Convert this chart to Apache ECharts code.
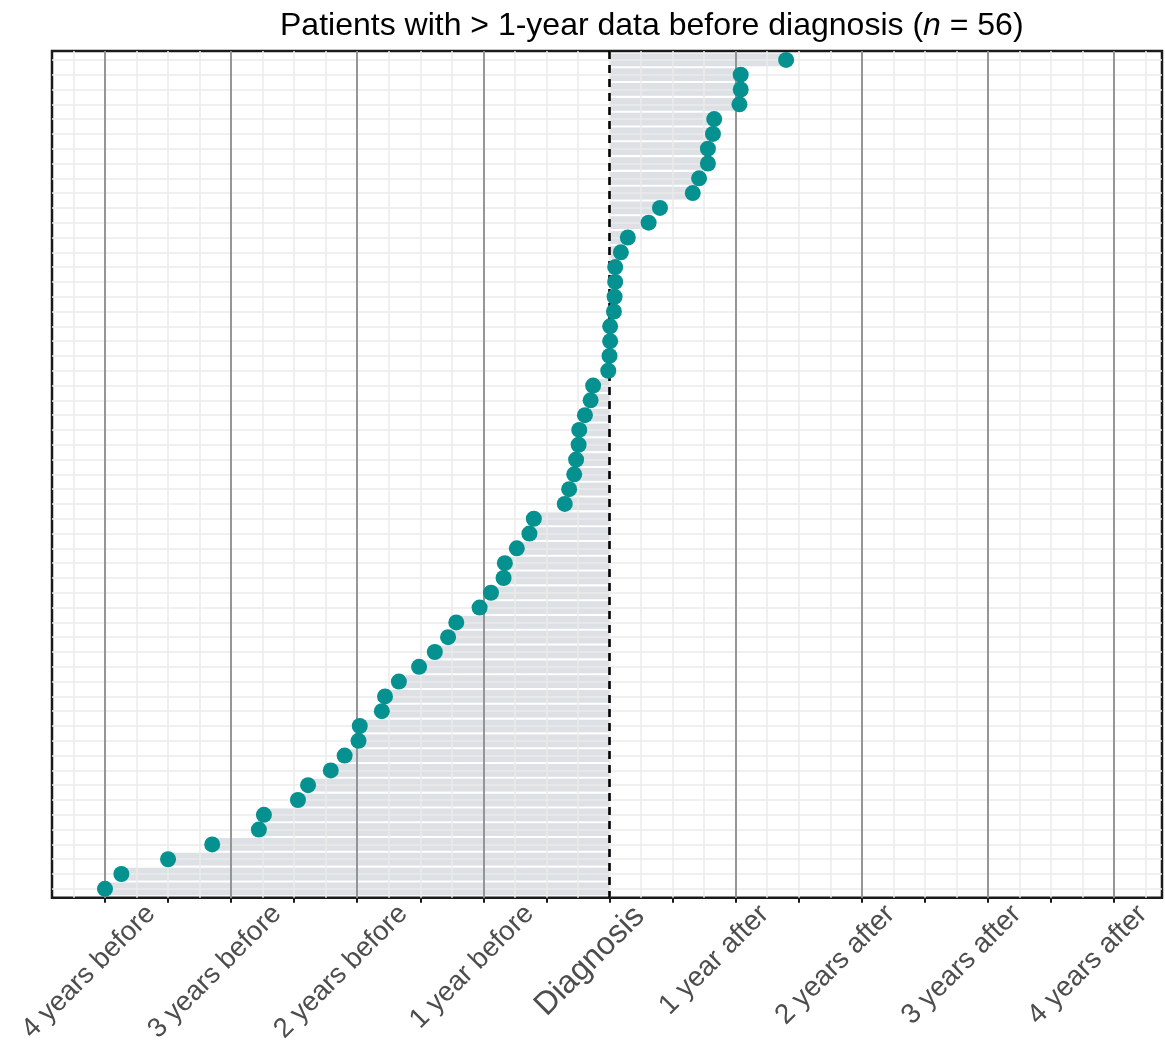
<!DOCTYPE html>
<html>
<head>
<meta charset="utf-8">
<script src="https://cdn.jsdelivr.net/npm/echarts@6/dist/echarts.min.js"></script>
<style>
  html, body { margin: 0; padding: 0; background: #ffffff; }
  #chart { width: 1165px; height: 1046px; }
</style>
</head>
<body>
<div id="chart"></div>
<script>
// Years relative to diagnosis for each patient (top row first)
const patientValues = [
  1.40, 1.04, 1.04, 1.03, 0.83, 0.82, 0.78, 0.78, 0.71, 0.66,
  0.40, 0.31, 0.145, 0.09, 0.045, 0.045, 0.04, 0.035, 0.005, 0.005,
  0.0, -0.01, -0.13, -0.15, -0.195, -0.24, -0.245, -0.265, -0.28, -0.32,
  -0.355, -0.60, -0.635, -0.735, -0.83, -0.84, -0.94, -1.03, -1.215, -1.28,
  -1.385, -1.51, -1.67, -1.78, -1.805, -1.98, -1.99, -2.10, -2.21, -2.39,
  -2.47, -2.74, -2.78, -3.15, -3.50, -3.87, -4.00
];
const tickValues = [-4, -3, -2, -1, 0, 1, 2, 3, 4];
const tickLabels = ['4 years before', '3 years before', '2 years before', '1 year before',
  'Diagnosis', '1 year after', '2 years after', '3 years after', '4 years after'];
const halfTickValues = [-4, -3.5, -3, -2.5, -2, -1.5, -1, -0.5, 0, 0.5, 1, 1.5, 2, 2.5, 3, 3.5, 4];

const rows = patientValues.map((v, i) => [v, i + 1]);
const nRows = patientValues.length;

const minorX = [];
for (let v = -4.25; v <= 4.25001; v += 0.25) minorX.push({ xAxis: Math.round(v * 100) / 100 });
const rowLines = rows.map(r => ({ yAxis: r[1] }));
const majorX = tickValues.filter(v => v !== 0).map(v => ({ xAxis: v }));

const labelMap = {};
tickValues.forEach((v, i) => { labelMap[v] = tickLabels[i]; });

const chart = echarts.init(document.getElementById('chart'), null, { renderer: 'canvas' });
chart.setOption({
  animation: false,
  backgroundColor: '#ffffff',
  title: {
    text: '{a|Patients with > 1-year data before diagnosis (}{i|n}{a| = 56)}',
    left: 275,
    top: 5,
    textStyle: {
      fontWeight: 'normal',
      rich: {
        a: { fontFamily: 'Liberation Sans', fontSize: 32, fontWeight: 'normal', color: '#000000' },
        i: { fontFamily: 'Liberation Sans', fontSize: 32, fontWeight: 'normal', color: '#000000', fontStyle: 'italic' }
      }
    }
  },
  grid: {
    left: 52, right: 3, top: 51, bottom: 146,
    show: true, borderColor: '#1a1a1a', borderWidth: 2.5, backgroundColor: '#ffffff'
  },
  xAxis: {
    type: 'value', min: -4.42, max: 4.38,
    splitLine: { show: false },
    axisLine: { show: false },
    axisTick: {
      show: true, customValues: halfTickValues, length: 5, inside: false,
      lineStyle: { color: '#1a1a1a', width: 2 }
    },
    axisLabel: {
      show: true, customValues: tickValues, rotate: 45, margin: -34,
      align: 'right', verticalAlign: 'top',
      fontFamily: 'Liberation Sans', fontSize: 27.5, color: '#4d4d4d',
      formatter: function (v) {
        const s = labelMap[v];
        if (v < 0) return '{b|' + s + '}';
        if (v === 0) return '{d|' + s + '}';
        return '{r|' + s + '}';
      },
      rich: {
        b: { fontFamily: 'Liberation Sans', fontSize: 27.5, color: '#4d4d4d', padding: [51, 0, 0, 0] },
        d: { fontFamily: 'Liberation Sans', fontSize: 32, color: '#4d4d4d', padding: [39, 12.5, 0, 0] },
        r: { fontFamily: 'Liberation Sans', fontSize: 28, color: '#4d4d4d', padding: [39, 12.5, 0, 0] }
      }
    }
  },
  yAxis: {
    type: 'value', min: 0.4, max: nRows + 0.6, inverse: true,
    show: false, splitLine: { show: false }
  },
  series: [
    {
      type: 'line', data: [], z: 1, silent: true,
      markLine: {
        silent: true, symbol: 'none', label: { show: false }, animation: false,
        lineStyle: { color: '#ebebeb', width: 1.5, type: 'solid' },
        data: minorX.concat(rowLines)
      }
    },
    {
      type: 'line', data: [], z: 2, silent: true,
      markLine: {
        silent: true, symbol: 'none', label: { show: false }, animation: false,
        lineStyle: { color: '#7f7f7f', width: 1.6, type: 'solid' },
        data: majorX
      }
    },
    {
      type: 'custom', z: 3, silent: true,
      data: rows,
      renderItem: function (params, api) {
        const y = api.value(1);
        const p0 = api.coord([0, y]);
        const p1 = api.coord([api.value(0), y]);
        const h = api.size([0, 1])[1] * 0.86;
        return {
          type: 'rect',
          shape: { x: Math.min(p0[0], p1[0]), y: p0[1] - h / 2, width: Math.abs(p1[0] - p0[0]), height: h },
          style: { fill: '#dde0e4' }
        };
      }
    },
    {
      type: 'line', data: [], z: 4, silent: true,
      markLine: {
        silent: true, symbol: 'none', label: { show: false }, animation: false,
        lineStyle: { color: '#000000', width: 2.6, type: [8, 6] },
        data: [{ xAxis: 0 }]
      }
    },
    {
      type: 'scatter', z: 5,
      data: rows, symbol: 'circle', symbolSize: 16,
      itemStyle: { color: '#05918f', opacity: 1 }
    }
  ]
});
</script>
</body>
</html>
